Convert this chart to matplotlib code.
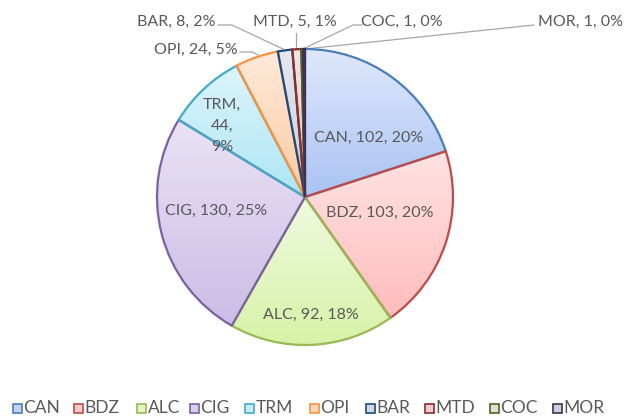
import matplotlib
matplotlib.use("Agg")
import matplotlib.pyplot as plt
from matplotlib.patches import Rectangle
import numpy as np

categories = ["CAN", "BDZ", "ALC", "CIG", "TRM", "OPI", "BAR", "MTD", "COC", "MOR"]
values = [102, 103, 92, 130, 44, 24, 8, 5, 1, 1]
percents = ["20%", "20%", "18%", "25%", "9%", "5%", "2%", "1%", "0%", "0%"]

edge_colors = ["#4a7ebb", "#be4b48", "#98b954", "#7d60a0", "#46aac5", "#f69240",
               "#1f497d", "#8c2e2c", "#4f6228", "#3f3151"]
fill_top = ["#dfe8fb", "#ffe3e3", "#eefadf", "#e9e2f5", "#dcf4fb", "#feeadb",
            "#e4e8ef", "#f4e4e4", "#e8eedd", "#e3dfe9"]
fill_bot = ["#a9c3f3", "#ffbcbc", "#d8f2a8", "#cbbde6", "#aee6f6", "#fdc9a0",
            "#c5cfe0", "#e6c3c3", "#cdd9b8", "#c6bdd6"]
legend_fill = ["#c0d3f6", "#ffcaca", "#e2f6c4", "#d8cdee", "#c4edf9", "#fdd6b8",
               "#d2d9e6", "#eccdcd", "#dae3cb", "#d4cde0"]

W, H = 624, 416
fig = plt.figure(figsize=(6.24, 4.16), dpi=100)
ax = fig.add_axes([0, 0, 1, 1])

cx, cy, R = 305, H - 197, 148
wedges, _ = ax.pie(values, startangle=90, counterclock=False, center=(cx, cy),
                   radius=R, frame=True,
                   wedgeprops=dict(linewidth=1.6))
ax.set_xlim(0, W)
ax.set_ylim(0, H)
ax.set_aspect("equal")
ax.axis("off")

for i, w in enumerate(wedges):
    w.set_facecolor("none")
    w.set_edgecolor(edge_colors[i])
    w.set_zorder(3)
    t1, t2 = w.theta1, w.theta2
    angs = np.radians(np.linspace(t1, t2, 50))
    ys = np.concatenate([[cy], cy + R * np.sin(angs)])
    ymin, ymax = ys.min(), ys.max()
    c_top = np.array(matplotlib.colors.to_rgb(fill_top[i]))
    c_bot = np.array(matplotlib.colors.to_rgb(fill_bot[i]))
    n = 100
    f = np.linspace(0, 1, n)[:, None]
    grad = (c_bot * (1 - f) + c_top * f)[:, None, :]
    im = ax.imshow(grad, extent=[cx - R, cx + R, ymin, ymax], origin="lower",
                   aspect="auto", zorder=2, interpolation="bilinear")
    im.set_clip_path(w)

txtc = "#595959"
fam = ["Lato", "DejaVu Sans"]
fs = 11.5

def lab(i):
    return f"{categories[i]}, {values[i]}, {percents[i]}"

inside = {0: (369, 138), 1: (380, 213), 2: (311, 315), 3: (216, 211)}
for i, (x, y) in inside.items():
    ax.text(x, H - y, lab(i), ha="center", va="center", color=txtc,
            fontsize=fs, family=fam, zorder=5)
ax.text(222, H - 126, "TRM,\n44,\n9%", ha="center", va="center", color=txtc,
        fontsize=fs, family=fam, linespacing=1.65, zorder=5)

outside = {5: (196, 50), 6: (176, 22), 7: (295, 22), 8: (402, 22), 9: (580, 22)}
for i, (x, y) in outside.items():
    ax.text(x, H - y, lab(i), ha="center", va="center", color=txtc,
            fontsize=fs, family=fam, zorder=5)

lc = "#a6a6a6"
leaders = [
    [(240, 52), (252, 52), (258, 55)],          # OPI
    [(218, 25), (232, 25), (283, 49)],          # BAR
    [(296, 33), (296, 50)],                      # MTD
    [(362, 25), (353, 25), (303, 49)],           # COC
    [(534, 25), (305, 49)],                      # MOR
]
for pts in leaders:
    xs = [p[0] for p in pts]
    ys = [H - p[1] for p in pts]
    ax.plot(xs, ys, color=lc, lw=0.9, zorder=1)

# legend (manual)
leg_x = [13, 74, 137, 190, 245, 310, 366, 425, 490, 553]
leg_y = H - 408
sq = 9
for i, x in enumerate(leg_x):
    ax.add_patch(Rectangle((x, leg_y - sq / 2), sq, sq, facecolor=legend_fill[i],
                           edgecolor=edge_colors[i], lw=1.2, zorder=5, clip_on=False))
    ax.text(x + sq + 1.5, leg_y, categories[i], ha="left", va="center", color=txtc,
            fontsize=12.5, family=fam, zorder=5)

fig.savefig("out.png", dpi=100)
